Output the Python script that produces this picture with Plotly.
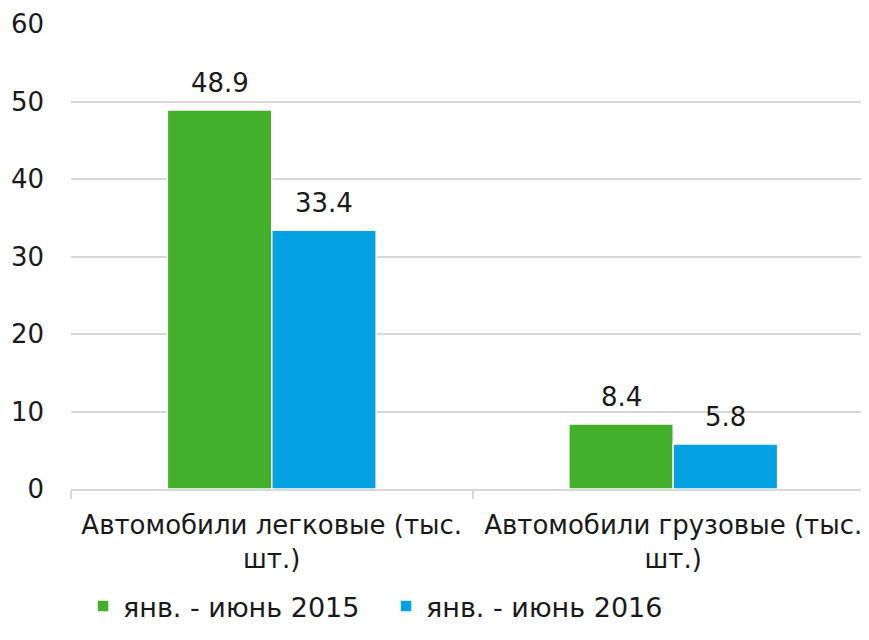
import plotly.graph_objects as go

categories = ["Автомобили легковые (тыс.<br>шт.)", "Автомобили грузовые (тыс.<br>шт.)"]
series_names = ["янв. - июнь 2015", "янв. - июнь 2016"]
values_2015 = [48.9, 8.4]
values_2016 = [33.4, 5.8]
colors = ["#43AF2B", "#04A2E0"]
y_ticks = [0, 10, 20, 30, 40, 50, 60]

FONT = "DejaVu Sans"
fs = 26
# page body has an 8px default margin; plot area runs slightly past the right edge
W, H = 866, 632
ML, MR, MT, MB = 63, 0, 16, 151
BARGAP = 0.48

fig = go.Figure()
for name, vals, col in zip(series_names, [values_2015, values_2016], colors):
    fig.add_trace(go.Bar(
        x=categories, y=vals, name=name,
        marker=dict(color=col, line=dict(color="white", width=1.5)),
    ))

# value labels above bars
plot_w = W - ML - MR
cat_w = plot_w / len(categories)
bar_w = cat_w * (1 - BARGAP) / len(series_names)
for i, vals in enumerate([values_2015, values_2016]):
    off = (i - (len(series_names) - 1) / 2) * bar_w
    for c, v in zip(categories, vals):
        fig.add_annotation(x=c, y=v, xref="x", yref="y", text=f"{v:.1f}",
                           showarrow=False, xshift=off, yshift=10, yanchor="bottom",
                           font=dict(family=FONT, size=fs, color="#1a1a1a"))

fig.update_layout(
    width=W, height=H,
    margin=dict(l=ML, r=MR, t=MT, b=MB, autoexpand=False),
    plot_bgcolor="white", paper_bgcolor="white",
    barmode="group", bargap=BARGAP, bargroupgap=0.0,
    font=dict(family=FONT, size=fs, color="#1a1a1a"),
    showlegend=True,
    legend=dict(orientation="h", x=0.015, xanchor="left", y=-0.2, yanchor="top",
                font=dict(family=FONT, size=27), traceorder="normal",
                entrywidth=258, entrywidthmode="pixels"),
)
fig.update_yaxes(range=[0, 60], tickvals=y_ticks, showgrid=True, gridcolor="#d9d9d9",
                 gridwidth=1.5, zeroline=False, showline=False, ticks="",
                 ticklabelstandoff=26, automargin=False)
fig.update_xaxes(showline=True, linecolor="#d9d9d9", linewidth=1.5, ticks="outside",
                 tickson="boundaries", ticklen=8, tickcolor="#d9d9d9", tickwidth=1.5,
                 showgrid=False, ticklabelstandoff=12, automargin=False)

fig.write_html("out.html")
